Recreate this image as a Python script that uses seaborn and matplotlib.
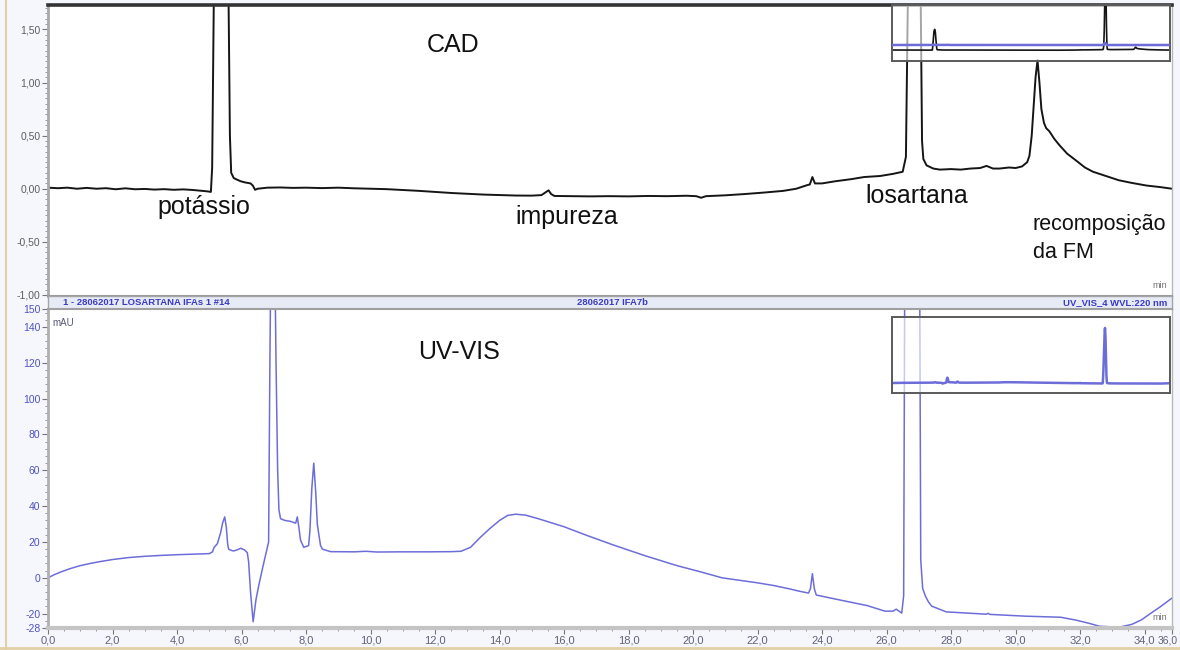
import numpy as np
import pandas as pd
import matplotlib
matplotlib.use("Agg")
import matplotlib.pyplot as plt
import seaborn as sns
from matplotlib.ticker import FixedLocator, MultipleLocator, FixedFormatter, FuncFormatter
from matplotlib.lines import Line2D

# ------------------------------------------------------------------
# Data
# ------------------------------------------------------------------
# CAD detector trace (top panel), time in min, signal in detector units
cad_time = [0.0, 0.3, 0.6, 0.9, 1.2, 1.5, 1.8, 2.1, 2.4, 2.7, 3.0, 3.3, 3.6, 3.9,
            4.2, 4.5, 4.8, 4.95, 5.05, 5.09, 5.14, 5.2, 5.28, 5.37, 5.46, 5.53,
            5.6, 5.64, 5.68, 5.76, 5.9, 5.98, 6.1, 6.28, 6.35, 6.42, 6.5, 6.8,
            7.2, 7.6, 8.0, 8.5, 9.0, 9.5, 10.0, 10.5, 11.0, 11.5, 12.0, 12.5,
            13.0, 13.5, 14.0, 14.5, 15.0, 15.3, 15.45, 15.52, 15.6, 15.7, 16.2,
            16.8, 17.4, 18.0, 18.6, 19.2, 19.8, 20.1, 20.25, 20.4, 21.0, 21.6,
            22.2, 22.8, 23.2, 23.55, 23.62, 23.7, 23.78, 24.0, 24.4, 24.9, 25.3,
            25.8, 26.2, 26.5, 26.6, 26.66, 26.72, 26.8, 26.87, 26.94, 27.0,
            27.06, 27.1, 27.14, 27.24, 27.45, 27.65, 28.0, 28.3, 28.6, 28.9,
            29.1, 29.3, 29.5, 29.8, 30.0, 30.2, 30.36, 30.43, 30.5, 30.56,
            30.62, 30.68, 30.74, 30.8, 30.88, 30.95, 31.05, 31.2, 31.36, 31.6,
            31.9, 32.15, 32.4, 32.8, 33.2, 33.6, 34.06, 34.5, 34.85]
cad_signal = [0.01, 0.005, 0.01, 0.0, 0.008, 0.0, 0.005, -0.005, 0.004, -0.005,
              -0.002, -0.008, -0.004, -0.01, -0.006, -0.012, -0.02, -0.025,
              -0.03, 0.2, 1.73, 4.5, 7.6, 8.5, 7.3, 4.2, 1.73, 0.5, 0.15, 0.1,
              0.08, 0.07, 0.06, 0.05, 0.03, -0.01, 0.0, 0.01, 0.012, 0.008,
              0.01, 0.006, 0.01, 0.004, 0.0, -0.004, -0.012, -0.02, -0.03,
              -0.04, -0.048, -0.055, -0.06, -0.064, -0.065, -0.06, -0.03,
              -0.015, -0.05, -0.068, -0.07, -0.072, -0.07, -0.072, -0.068,
              -0.07, -0.066, -0.07, -0.085, -0.07, -0.062, -0.05, -0.036,
              -0.02, 0.0, 0.035, 0.04, 0.11, 0.05, 0.05, 0.07, 0.09, 0.11,
              0.12, 0.14, 0.16, 0.3, 1.73, 8.0, 22.0, 30.0, 23.0, 10.0, 1.73,
              0.45, 0.28, 0.22, 0.19, 0.18, 0.185, 0.18, 0.19, 0.195, 0.215,
              0.19, 0.19, 0.2, 0.195, 0.21, 0.25, 0.31, 0.5, 0.78, 1.05, 1.21,
              1.0, 0.75, 0.62, 0.57, 0.54, 0.47, 0.41, 0.33, 0.26, 0.2, 0.16,
              0.12, 0.08, 0.055, 0.03, 0.015, 0.0]

# UV-VIS trace (bottom panel), time in min, absorbance in mAU
uv_time = [0.0, 0.2, 0.4, 0.7, 1.0, 1.3, 1.6, 2.0, 2.5, 3.0, 3.5, 4.0, 4.5, 5.0,
           5.1, 5.15, 5.25, 5.35, 5.42, 5.48, 5.53, 5.57, 5.6, 5.7, 5.76, 5.85,
           5.98, 6.1, 6.18, 6.22, 6.28, 6.36, 6.45, 6.55, 6.66, 6.75, 6.84,
           6.88, 6.92, 6.97, 7.02, 7.07, 7.12, 7.16, 7.21, 7.35, 7.52, 7.68,
           7.73, 7.78, 7.83, 7.93, 8.08, 8.12, 8.18, 8.24, 8.3, 8.35, 8.39,
           8.45, 8.51, 8.76, 9.5, 9.85, 10.2, 11.0, 11.8, 12.5, 12.8, 13.1,
           13.4, 13.7, 14.0, 14.25, 14.5, 14.8, 15.2, 16.0, 16.7, 17.5, 18.5,
           19.5, 20.2, 20.9, 21.5, 22.0, 22.5, 23.0, 23.3, 23.58, 23.64, 23.7,
           23.76, 23.82, 24.4, 25.0, 25.4, 25.95, 26.2, 26.3, 26.4, 26.47,
           26.53, 26.56, 26.62, 26.7, 26.78, 26.82, 26.88, 26.95, 27.0, 27.03,
           27.06, 27.12, 27.2, 27.3, 27.4, 27.85, 28.5, 29.1, 29.15, 29.2,
           30.3, 31.4, 31.9, 32.3, 32.6, 33.2, 33.6, 33.9, 34.15, 34.5, 34.85]
uv_signal = [0.0, 1.8, 3.3, 5.2, 6.8, 8.0, 9.0, 10.2, 11.3, 12.0, 12.5, 12.9,
             13.2, 13.5, 14.5, 17.0, 19.0, 25.0, 31.0, 34.0, 28.0, 19.0, 16.0,
             15.2, 15.0, 15.5, 16.5, 15.5, 14.0, 9.0, -8.0, -24.5, -12.0, -3.0,
             6.0, 13.0, 20.0, 120.0, 200.0, 235.0, 200.0, 120.0, 60.0, 38.0,
             33.0, 32.0, 31.5, 30.5, 34.0, 28.0, 21.0, 17.0, 18.0, 26.0, 50.0,
             64.0, 48.0, 30.0, 25.0, 18.0, 16.0, 14.6, 14.5, 14.8, 14.4, 14.5,
             14.5, 14.6, 14.8, 17.0, 22.5, 27.5, 32.0, 34.8, 35.5, 35.0, 33.0,
             28.5, 23.7, 18.5, 12.4, 6.8, 3.5, 0.0, -1.5, -2.8, -4.3, -6.2,
             -7.5, -8.5, -6.0, 2.3, -6.0, -9.6, -11.8, -14.0, -15.5, -18.6,
             -18.6, -17.5, -18.8, -19.7, -10.0, 150.0, 600.0, 1500.0, 2300.0,
             2400.0, 2000.0, 900.0, 300.0, 150.0, 10.0, -6.0, -10.0, -13.5,
             -15.8, -19.0, -19.7, -20.3, -19.8, -20.4, -21.4, -22.0, -23.7,
             -25.5, -27.0, -27.6, -26.0, -23.5, -20.3, -16.0, -11.3]

# Axis ticks and labels
x_major_ticks = [0, 2, 4, 6, 8, 10, 12, 14, 16, 18, 20, 22, 24, 26, 28, 30, 32, 34]
x_tick_labels = ["0,0", "2,0", "4,0", "6,0", "8,0", "10,0", "12,0", "14,0", "16,0",
                 "18,0", "20,0", "22,0", "24,0", "26,0", "28,0", "30,0", "32,0", "34,0"]
x_end_value = 34.85
x_end_label = "36,0"
cad_yticks = [-1.0, -0.5, 0.0, 0.5, 1.0, 1.5]
uv_yticks = [-28, -20, 0, 20, 40, 60, 80, 100, 120, 140, 150]

# Text of the figure
panel_titles = ["CAD", "UV-VIS"]
peak_names = ["potássio", "impureza", "losartana", "recomposição", "da FM"]
header_left = "1 - 28062017 LOSARTANA IFAs 1 #14"
header_mid = "28062017 IFA7b"
header_right = "UV_VIS_4 WVL:220 nm"

cad_df = pd.DataFrame({"t": cad_time, "v": cad_signal})
uv_df = pd.DataFrame({"t": uv_time, "v": uv_signal})

# ------------------------------------------------------------------
# Figure
# ------------------------------------------------------------------
sns.set_theme(style="white")
plt.rcParams["font.family"] = ["Liberation Sans", "DejaVu Sans"]

W, H = 1180, 650
fig = plt.figure(figsize=(W / 100, H / 100), dpi=100, facecolor="#f5f7fc")


def box(l, t, r, b):
    return [l / W, 1 - b / H, (r - l) / W, (b - t) / H]


ax1 = fig.add_axes(box(48, 5, 1172, 296))
strip = fig.add_axes(box(48, 296, 1172, 309))
ax2 = fig.add_axes(box(48, 309, 1172, 628))
ins1 = fig.add_axes(box(892, 5, 1170, 61))
ins2 = fig.add_axes(box(892, 317, 1170, 393))

CAD_COLOR = "#151515"
UV_COLOR = "#6d6dda"

# ---- top panel: CAD ----
sns.lineplot(data=cad_df, x="t", y="v", ax=ax1, color=CAD_COLOR, lw=1.4,
             estimator=None, sort=False, legend=False)
ax1.set_xlim(0, x_end_value)
ax1.set_ylim(-1.01, 1.73)
ax1.set_xlabel("")
ax1.set_ylabel("")
ax1.set_xticks([])
ax1.yaxis.set_major_locator(FixedLocator(cad_yticks))
ax1.yaxis.set_major_formatter(FuncFormatter(lambda v, p: f"{v:.2f}".replace(".", ",")))
ax1.yaxis.set_minor_locator(MultipleLocator(0.05))
ax1.tick_params(axis="y", which="major", direction="out", length=4, width=0.8,
                color="#777777", labelsize=7.5, labelcolor="#5e5e5e", pad=1.5, left=True)
ax1.tick_params(axis="y", which="minor", direction="out", length=2, width=0.6,
                color="#888888", left=True)
ax1.spines["top"].set_color("#333333")
ax1.spines["top"].set_linewidth(2.6)
ax1.spines["left"].set_color("#a8a8a8")
ax1.spines["left"].set_linewidth(2)
ax1.spines["right"].set_color("#b8b8b8")
ax1.spines["right"].set_linewidth(1)
ax1.spines["bottom"].set_color("#9a9a9a")
ax1.spines["bottom"].set_linewidth(1.5)

# ---- header strip ----
strip.set_facecolor("#e7ebf5")
strip.set_xticks([])
strip.set_yticks([])
for s in strip.spines.values():
    s.set_color("#a4a4a4")
    s.set_linewidth(1)
hdr = dict(fontsize=6.8, color="#3b3bc4", fontweight="bold", va="center",
           transform=strip.transAxes)
strip.text(0.013, 0.5, header_left, ha="left", **hdr)
strip.text(0.502, 0.5, header_mid, ha="center", **hdr)
strip.text(0.996, 0.5, header_right, ha="right", **hdr)

# ---- bottom panel: UV-VIS ----
sns.lineplot(data=uv_df, x="t", y="v", ax=ax2, color=UV_COLOR, lw=1.1,
             estimator=None, sort=False, legend=False)
ax2.set_xlim(0, x_end_value)
ax2.set_ylim(-28, 150)
ax2.set_xlabel("")
ax2.set_ylabel("")
ax2.xaxis.set_major_locator(FixedLocator(x_major_ticks + [x_end_value]))
ax2.xaxis.set_major_formatter(FixedFormatter(x_tick_labels + [""]))
ax2.xaxis.set_minor_locator(MultipleLocator(0.5))
ax2.yaxis.set_major_locator(FixedLocator(uv_yticks))
ax2.yaxis.set_major_formatter(FuncFormatter(lambda v, p: f"{v:.0f}"))
ax2.yaxis.set_minor_locator(MultipleLocator(4))
ax2.tick_params(axis="x", which="major", direction="out", length=4, width=0.8,
                color="#777777", labelsize=8, labelcolor="#62627a", pad=1.5, bottom=True)
ax2.tick_params(axis="x", which="minor", direction="out", length=2, width=0.6,
                color="#888888", bottom=True)
ax2.tick_params(axis="y", which="major", direction="out", length=4, width=0.8,
                color="#777777", labelsize=7.5, labelcolor="#5151c4", pad=1.5, left=True)
ax2.tick_params(axis="y", which="minor", direction="out", length=2, width=0.6,
                color="#888888", left=True)
ax2.spines["bottom"].set_color("#c4c4c4")
ax2.spines["bottom"].set_linewidth(3)
ax2.spines["left"].set_color("#b0b0b0")
ax2.spines["left"].set_linewidth(2)
ax2.spines["top"].set_color("#a0a0a0")
ax2.spines["top"].set_linewidth(1.5)
ax2.spines["right"].set_color("#b8b8b8")
ax2.spines["right"].set_linewidth(1)
# end-of-axis label, kept inside the picture
ax2.annotate(x_end_label, xy=(x_end_value, 0), xycoords=("data", "axes fraction"),
             xytext=(4.0, -5.5), textcoords="offset points", ha="right", va="top",
             fontsize=7.5, color="#62627a", annotation_clip=False)

# ---- overview insets ----
for ins in (ins1, ins2):
    ins.set_facecolor((1, 1, 1, 0.62))
    for s in ins.spines.values():
        s.set_color("#5a5a5a")
        s.set_linewidth(1.4)

sns.lineplot(data=cad_df, x="t", y="v", ax=ins1, color=CAD_COLOR, lw=1.2,
             estimator=None, sort=False, legend=False)
ins1.set_xlim(0, 35)
ins1.set_ylim(-4.5, 18.5)
ins1.set_xlabel("")
ins1.set_ylabel("")
ins1.set_xticks([])
ins1.set_yticks([])
ins1b = ins1.twinx()
sns.lineplot(data=uv_df, x="t", y="v", ax=ins1b, color=UV_COLOR, lw=1.8,
             estimator=None, sort=False, legend=False)
ins1b.set_xlim(0, 35)
ins1b.set_ylim(-19200, 48000)
ins1b.set_xlabel("")
ins1b.set_ylabel("")
ins1b.set_yticks([])
ins1b.patch.set_visible(False)
for s in ins1b.spines.values():
    s.set_visible(False)

sns.lineplot(data=uv_df, x="t", y="v", ax=ins2, color=UV_COLOR, lw=1.8,
             estimator=None, sort=False, legend=False)
ins2.set_xlim(0, 35)
ins2.set_ylim(-436, 2880)
ins2.set_xlabel("")
ins2.set_ylabel("")
ins2.set_xticks([])
ins2.set_yticks([])

# ---- annotations ----
def ftext(px, py, s, **kw):
    fig.text(px / W, 1 - py / H, s, **kw)


big = dict(fontsize=18, color="#111111", va="baseline", ha="left")
ftext(427, 52, panel_titles[0], **big)
ftext(418, 359, panel_titles[1], **big)
ftext(157, 214, peak_names[0], **big)
ftext(515, 224, peak_names[1], **big)
ftext(865, 203, peak_names[2], **big)
small = dict(fontsize=15.5, color="#111111", va="baseline", ha="left")
ftext(1033, 230, peak_names[3], **small)
ftext(1033, 258, peak_names[4], **small)

ftext(1152, 288, "min", fontsize=6.5, color="#707070", va="baseline", ha="left")
ftext(1152, 620, "min", fontsize=6.5, color="#707070", va="baseline", ha="left")
ftext(52, 326, "mAU", fontsize=7, color="#5a5a78", va="baseline", ha="left")

# window frame accents
fig.add_artist(Line2D([6 / W, 6 / W], [0, 1], color="#e3cfa6", lw=1.5))
fig.add_artist(Line2D([0, 1], [2 / H, 2 / H], color="#e3cfa6", lw=2))

fig.savefig("out.png", dpi=100, facecolor=fig.get_facecolor())
